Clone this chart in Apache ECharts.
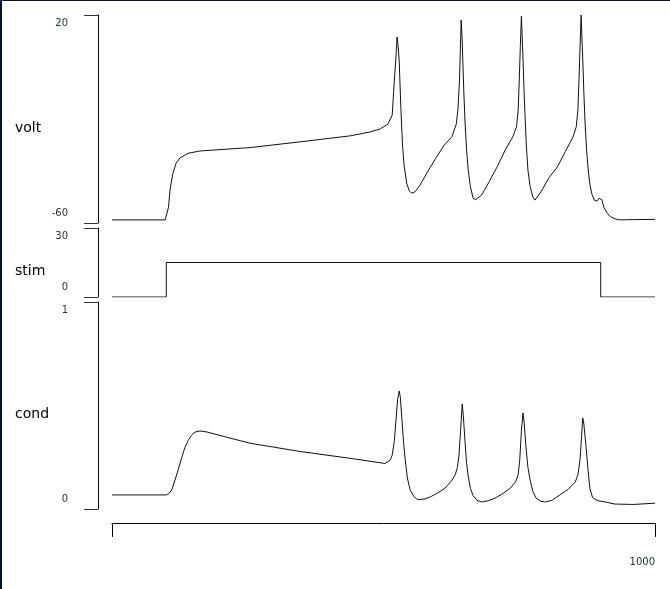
<!DOCTYPE html>
<html>
<head>
<meta charset="utf-8">
<script src="https://cdn.jsdelivr.net/npm/echarts@6/dist/echarts.min.js"></script>
<style>
html,body{margin:0;padding:0;background:#fff;}
#chart{width:670px;height:589px;}
</style>
</head>
<body>
<div id="chart"></div>
<script>
// time axis (ms)
const timeRange = [0, 1000];
const timeTickValues = [0, 1000];
const timeLabelValues = [1000];

// panel names and axis extents
const panelNames = ['volt', 'stim', 'cond'];
const voltRange = [-60, 20];
const stimRange = [0, 30];
const condRange = [0, 1];

// [time, volt]
const voltData = [
  [0,-58.8],[98,-58.8],[100,-58.5],[104,-54],[107,-47],[112,-41],[118,-37],[125,-35],[140,-33.2],[162,-32.3],
  [254,-31],[346,-28.8],[438,-26.5],[475,-25],[494,-23.8],[508,-22],[516,-18.5],[520,-5],[523,4],[525,11.5],
  [527,8],[529,2],[532,-16],[535,-30],[538,-38],[543,-45],[548,-47.8],[552,-48.5],[558,-48],[567,-45.5],
  [582,-40],[598,-34.5],[612,-30],[626,-26.8],[634,-22],[637,-16.5],[640,-5],[642,10],[643,18.1],[645,10],
  [646,2.7],[648,-10],[650,-20.4],[653,-32],[656,-39.6],[660,-46],[665,-50.5],[670,-51],[681,-49.2],[695,-44],
  [709,-38.5],[724,-32],[738,-26.9],[745,-23],[748,-16.5],[750,-5],[752,8],[754,19.6],[756,8],[757,2.7],
  [759,-10],[761,-20.4],[763,-30],[766,-39.6],[770,-46],[775,-50],[779,-51.2],[790,-48],[805,-42.5],[820,-38.5],
  [835,-32.5],[849,-26.9],[855,-23],[858,-16.5],[860,-5],[862,8],[864,20],[866,8],[867,2.7],[869,-10],
  [871,-20.4],[874,-32],[877,-39.6],[880,-45],[884,-49],[888,-51.2],[893,-51.6],[897,-50.5],[899,-49.8],[902,-51],
  [906,-54],[912,-56.2],[918,-57.6],[926,-58.4],[935,-58.8],[960,-58.7],[1000,-58.6]
];

// [time, stim]
const stimData = [[0,0],[100,0],[100,15],[900,15],[900,0],[1000,0]];

// [time, cond]
const condData = [
  [0,0.068],[100,0.068],[105,0.075],[110,0.092],[116,0.14],[122,0.19],[128,0.245],[134,0.295],[140,0.33],[146,0.355],
  [153,0.372],[162,0.377],[175,0.372],[199,0.355],[254,0.318],[346,0.278],[438,0.245],[503,0.22],[512,0.235],[516,0.26],
  [520,0.33],[523,0.43],[526,0.53],[529,0.57],[531,0.54],[534,0.43],[537,0.32],[540,0.237],[544,0.15],[549,0.092],
  [556,0.06],[563,0.045],[575,0.048],[586,0.058],[600,0.078],[613,0.1],[625,0.135],[632,0.165],[636,0.2],[639,0.26],
  [642,0.38],[645,0.507],[647,0.45],[650,0.33],[653,0.22],[656,0.16],[660,0.1],[665,0.065],[672,0.042],[681,0.034],
  [693,0.04],[705,0.052],[720,0.075],[733,0.1],[743,0.13],[748,0.165],[751,0.24],[754,0.38],[757,0.464],[759,0.42],
  [762,0.31],[766,0.2],[770,0.14],[775,0.085],[781,0.053],[790,0.037],[797,0.034],[810,0.042],[825,0.068],[840,0.095],
  [853,0.13],[858,0.165],[862,0.24],[865,0.36],[867,0.44],[869,0.41],[873,0.3],[877,0.18],[880,0.1],[885,0.055],
  [889,0.048],[895,0.04],[908,0.034],[926,0.024],[960,0.022],[1000,0.028]
];

const FONT = 'DejaVu Sans';
const AXIS_COLOR = '#000';
const LABEL_COLOR = '#2a3333';

function yAxisFor(idx, range, name) {
  return {
    type: 'value',
    gridIndex: idx,
    min: range[0],
    max: range[1],
    offset: 14,
    name: name,
    nameLocation: 'middle',
    nameRotate: 0,
    nameGap: 83,
    nameTextStyle: { align: 'left', verticalAlign: 'top', lineHeight: 18, fontFamily: FONT, fontSize: 14, color: '#000' },
    axisLine: { show: true, onZero: false, lineStyle: { color: AXIS_COLOR, width: 1 } },
    axisTick: { show: true, length: 14, customValues: range.slice(), lineStyle: { color: '#333', width: 1 } },
    axisLabel: {
      show: true,
      customValues: range.slice(),
      margin: 30,
      fontFamily: FONT,
      fontSize: 10,
      color: LABEL_COLOR,
      formatter: function (v) {
        return v === range[1] ? '{t|' + v + '}' : '{b|' + v + '}';
      },
      rich: {
        t: { padding: [16, 0, 0, 0], fontFamily: FONT, fontSize: 10, color: LABEL_COLOR },
        b: { padding: [0, 0, 20, 0], fontFamily: FONT, fontSize: 10, color: LABEL_COLOR }
      }
    },
    splitLine: { show: false }
  };
}

function hiddenX(idx) {
  return { type: 'value', gridIndex: idx, min: timeRange[0], max: timeRange[1], show: false, splitLine: { show: false } };
}

const chart = echarts.init(document.getElementById('chart'), null, { renderer: 'canvas' });
chart.setOption({
  animation: false,
  backgroundColor: '#fff',
  grid: [
    { left: 112, right: 15, top: 15, height: 208 },
    { left: 112, right: 15, top: 228, height: 69 },
    { left: 112, right: 15, top: 302, height: 207 }
  ],
  xAxis: [
    hiddenX(0),
    hiddenX(1),
    {
      type: 'value', gridIndex: 2, min: timeRange[0], max: timeRange[1],
      position: 'bottom', offset: 14,
      axisLine: { show: true, onZero: false, lineStyle: { color: AXIS_COLOR, width: 1 } },
      axisTick: { show: true, length: 14, customValues: timeTickValues, lineStyle: { color: AXIS_COLOR, width: 1 } },
      axisLabel: {
        show: true, customValues: timeLabelValues, align: 'right', margin: 34,
        fontFamily: FONT, fontSize: 10, color: LABEL_COLOR,
        formatter: function (v) { return String(v); }
      },
      splitLine: { show: false }
    }
  ],
  yAxis: [
    yAxisFor(0, voltRange, panelNames[0]),
    yAxisFor(1, stimRange, panelNames[1]),
    yAxisFor(2, condRange, panelNames[2])
  ],
  series: [
    { type: 'line', xAxisIndex: 0, yAxisIndex: 0, data: voltData, showSymbol: false, lineStyle: { color: '#111', width: 1 } },
    { type: 'line', xAxisIndex: 1, yAxisIndex: 1, data: stimData, showSymbol: false, lineStyle: { color: '#111', width: 1 } },
    { type: 'line', xAxisIndex: 2, yAxisIndex: 2, data: condData, showSymbol: false, lineStyle: { color: '#111', width: 1 } }
  ],
  graphic: [
    { type: 'rect', left: 0, top: 0, shape: { width: 2, height: 589 }, style: { fill: '#0b0b35' }, silent: true },
    { type: 'rect', left: 0, top: 0, shape: { width: 670, height: 1 }, style: { fill: '#0b0b35' }, silent: true }
  ]
});
</script>
</body>
</html>
